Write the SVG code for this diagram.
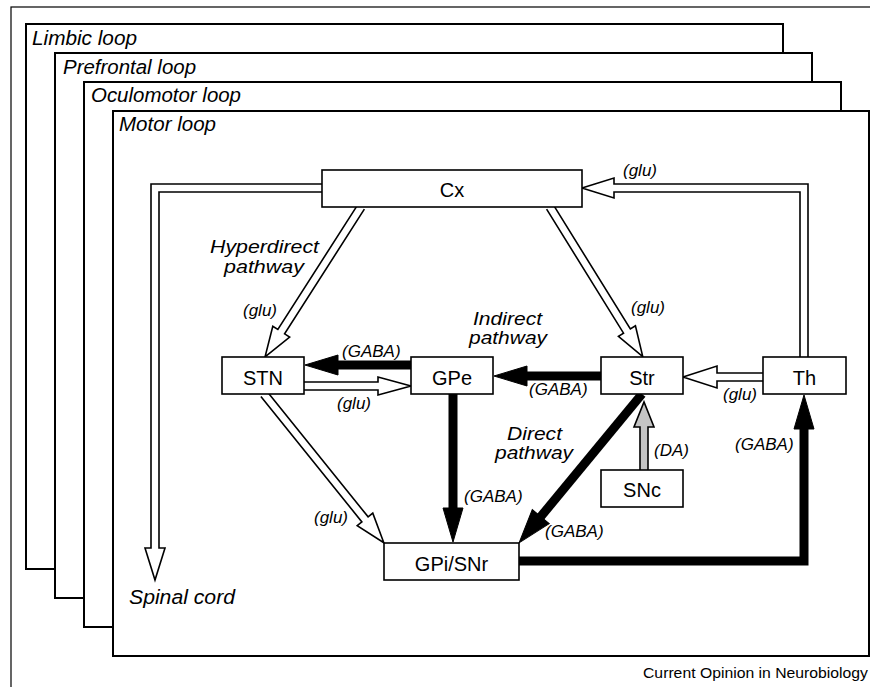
<svg xmlns="http://www.w3.org/2000/svg" width="870" height="687" viewBox="0 0 870 687">
<style>
.loop{fill:#fff;stroke:#000;stroke-width:2}
.node rect{fill:#fff;stroke:#000;stroke-width:1.6}
.node text{font-family:"Liberation Sans",Arial,Helvetica,sans-serif;font-size:20px;text-anchor:middle;fill:#000}
.lbl{font-family:"Liberation Sans",Arial,Helvetica,sans-serif;font-style:italic;font-size:17px;fill:#000}
.big{font-family:"Liberation Sans",Arial,Helvetica,sans-serif;font-style:italic;font-size:20px;fill:#000}
.mid{font-family:"Liberation Sans",Arial,Helvetica,sans-serif;font-style:italic;font-size:18px;fill:#000}
.hollow{fill:#fff;stroke:#000;stroke-width:1.6;stroke-linejoin:miter}
.thick{fill:none;stroke:#000;stroke-width:9;stroke-linejoin:miter}
.head{fill:#000;stroke:#000;stroke-width:1}
</style>
<rect width="870" height="687" fill="#fff"/>
<rect x="11" y="7" width="870" height="700" fill="none" stroke="#000" stroke-width="1.2"/>
<g id="loops">
<rect class="loop" x="26" y="24" width="757" height="545"/>
<text class="big" x="32" y="45" textLength="105" lengthAdjust="spacingAndGlyphs">Limbic loop</text>
<rect class="loop" x="55" y="53" width="757" height="545"/>
<text class="big" x="63" y="74" textLength="133" lengthAdjust="spacingAndGlyphs">Prefrontal loop</text>
<rect class="loop" x="84" y="82" width="757" height="545"/>
<text class="big" x="91" y="102" textLength="150" lengthAdjust="spacingAndGlyphs">Oculomotor loop</text>
<rect class="loop" x="113" y="111" width="756" height="545"/>
<text class="big" x="119" y="131" textLength="97" lengthAdjust="spacingAndGlyphs">Motor loop</text>
</g>
<g id="connectors">
<path class="hollow" d="M322,184 H151 V548 H145 L155,580 L165,548 H159 V192 H322"/>
<path class="hollow" d="M808,357 V184 H614 V178 L582,188 L614,198 V192 H800 V357"/>
<path class="hollow" transform="translate(361,207) rotate(122.62)" d="M0,-4 H148 V-10 L178,0 L148,10 V4 H0"/>
<path class="hollow" transform="translate(550,207) rotate(58.2)" d="M0,-4 H146 V-10 L176,0 L146,10 V4 H0"/>
<path class="hollow" transform="translate(264,394) rotate(51.15)" d="M0,-4 H161 V-10 L191,0 L161,10 V4 H0"/>
<path class="hollow" d="M304,382 H378 V377 L411,386 L378,395 V390 H304"/>
<path class="hollow" d="M763,373 H717 V366 L683,377 L717,388 V381 H763"/>
<line class="thick" x1="411" y1="365" x2="336" y2="365"/>
<polygon class="head" points="338,355 305,365 338,375"/>
<line class="thick" x1="601" y1="376" x2="525" y2="376"/>
<polygon class="head" points="527,366 494,376 527,386"/>
<line class="thick" x1="453" y1="394" x2="453" y2="510"/>
<polygon class="head" points="443,508 453,542 463,508"/>
<g transform="translate(642,394) rotate(129.54)">
<line class="thick" x1="0" y1="0" x2="162" y2="0"/>
<polygon class="head" points="159,-11 193,0 159,11"/>
</g>
<path class="thick" d="M519,561 H804 V426"/>
<polygon class="head" points="794,429 804,395 814,429"/>
<path d="M640,470 V427 H634 L644,402 L654,427 H648 V470" fill="#c4c4c4" stroke="#000" stroke-width="1.6"/>
</g>
<g id="labels">
<text class="lbl" x="623" y="176">(glu)</text>
<text class="mid" x="210" y="253" textLength="109" lengthAdjust="spacingAndGlyphs">Hyperdirect</text>
<text class="mid" x="224" y="273" textLength="80" lengthAdjust="spacingAndGlyphs">pathway</text>
<text class="lbl" x="243" y="316">(glu)</text>
<text class="lbl" x="631" y="313">(glu)</text>
<text class="mid" x="473" y="325" textLength="69" lengthAdjust="spacingAndGlyphs">Indirect</text>
<text class="mid" x="469" y="344" textLength="78" lengthAdjust="spacingAndGlyphs">pathway</text>
<text class="lbl" x="342" y="357">(GABA)</text>
<text class="lbl" x="337" y="409">(glu)</text>
<text class="lbl" x="529" y="395">(GABA)</text>
<text class="lbl" x="723" y="400">(glu)</text>
<text class="mid" x="507" y="440" textLength="55" lengthAdjust="spacingAndGlyphs">Direct</text>
<text class="mid" x="495" y="459" textLength="78" lengthAdjust="spacingAndGlyphs">pathway</text>
<text class="lbl" x="654" y="456">(DA)</text>
<text class="lbl" x="735" y="450">(GABA)</text>
<text class="lbl" x="464" y="502">(GABA)</text>
<text class="lbl" x="314" y="523">(glu)</text>
<text class="lbl" x="545" y="537">(GABA)</text>
<text class="big" x="129" y="604" textLength="106" lengthAdjust="spacingAndGlyphs">Spinal cord</text>
<text x="643" y="678" font-family="'Liberation Sans',Arial,Helvetica,sans-serif" font-size="15" textLength="225" lengthAdjust="spacingAndGlyphs">Current Opinion in Neurobiology</text>
</g>
<g id="Cx" class="node"><rect x="322" y="170" width="260" height="37"/><text x="452" y="197">Cx</text></g>
<g id="STN" class="node"><rect x="222" y="357" width="82" height="37"/><text x="263" y="385">STN</text></g>
<g id="GPe" class="node"><rect x="411" y="357" width="82" height="37"/><text x="452" y="385">GPe</text></g>
<g id="Str" class="node"><rect x="601" y="357" width="82" height="37"/><text x="642" y="385">Str</text></g>
<g id="Th" class="node"><rect x="763" y="357" width="83" height="37"/><text x="804.5" y="385">Th</text></g>
<g id="SNc" class="node"><rect x="601" y="470" width="82" height="37"/><text x="642" y="497">SNc</text></g>
<g id="GPi_SNr" class="node"><rect x="384" y="543" width="135" height="37"/><text x="451.5" y="571">GPi/SNr</text></g>
</svg>
